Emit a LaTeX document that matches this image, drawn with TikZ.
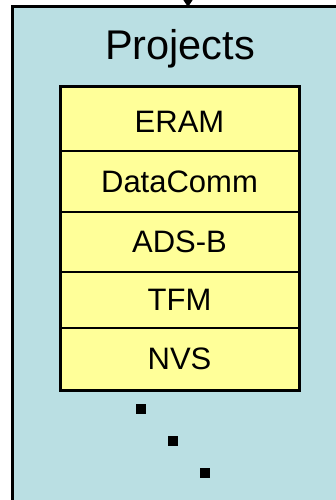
\documentclass[tikz,border=0pt]{standalone}
\usepackage{fontspec}
\setmainfont{Liberation Sans}
\usetikzlibrary{arrows.meta}
\definecolor{outerblue}{HTML}{BADFE3}
\definecolor{itemyellow}{HTML}{FFFF99}
\begin{document}
\begin{tikzpicture}[x=1pt,y=-1pt,
  outerbox/.style={fill=outerblue,draw=black,line width=3pt},
  itembox/.style={fill=itemyellow,draw=black,line width=3pt},
  divider/.style={draw=black,line width=2.5pt},
  itemtext/.style={font=\fontsize{31}{31}\selectfont,inner sep=0pt},
  dotsq/.style={fill=black,draw=none,minimum size=10pt,inner sep=0pt}]
\useasboundingbox (0,0) rectangle (336,500);
\clip (0,0) rectangle (336,500);
\draw[outerbox] (12,7) rectangle (345,510);
\coordinate (top) at (188,-6);
\coordinate (entry) at (188,7);
\draw[line width=1pt,-{Triangle[width=9pt,length=7pt]}] (top) -- (entry);
\node[font=\fontsize{41.5}{41.5}\selectfont,inner sep=0pt,anchor=base] (title) at (180,60) {Projects};
\draw[itembox] (60,87) rectangle (299,390);
\draw[divider] (60,151) -- (299,151);
\draw[divider] (60,212) -- (299,212);
\draw[divider] (60,272) -- (299,272);
\draw[divider] (60,328) -- (299,328);
\node[itemtext] (eram) at (179.5,122) {ERAM};
\node[itemtext] (datacomm) at (179.5,182) {DataComm};
\node[itemtext] (adsb) at (179.5,242) {ADS-B};
\node[itemtext] (tfm) at (179.5,300) {TFM};
\node[itemtext] (nvs) at (179.5,359) {NVS};
\node[dotsq] (d1) at (141,409) {};
\node[dotsq] (d2) at (173,441) {};
\node[dotsq] (d3) at (205,473) {};
\end{tikzpicture}
\end{document}
